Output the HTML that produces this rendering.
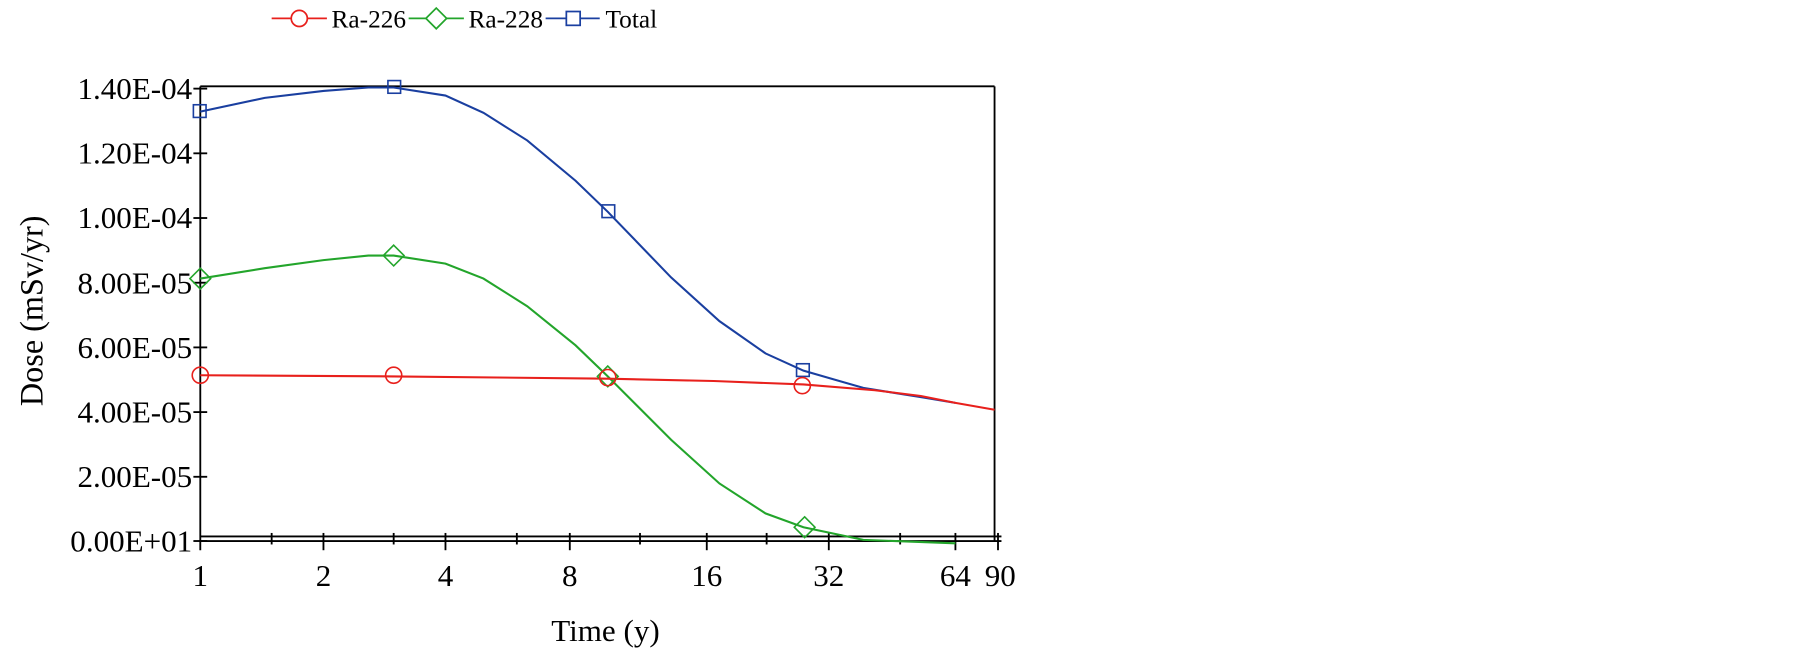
<!DOCTYPE html>
<html><head><meta charset="utf-8"><style>
html,body{margin:0;padding:0;background:#fff;}
svg{display:block;}
text{font-family:"Liberation Serif",serif;fill:#000;}
</style></head><body>
<svg width="1805" height="648" viewBox="0 0 1805 648">
<g transform="scale(1.1511)">
<!-- legend -->
<g stroke-width="1.5" fill="none">
<line x1="236" y1="16" x2="284" y2="16" stroke="#e8201c"/>
<circle cx="260" cy="16" r="7" stroke="#e8201c" fill="#fff"/>
<line x1="355" y1="16" x2="403" y2="16" stroke="#23a52b"/>
<path d="M379 7 L388 16 L379 25 L370 16 Z" stroke="#23a52b" fill="#fff"/>
<line x1="474" y1="16" x2="521" y2="16" stroke="#1a3fa0"/>
<rect x="492" y="10" width="12" height="12" stroke="#1a3fa0" fill="#fff"/>
</g>
<text x="288" y="24" font-size="22">Ra-226</text>
<text x="407" y="24" font-size="22">Ra-228</text>
<text x="526" y="24" font-size="22">Total</text>

<!-- frame -->
<g stroke="#000" stroke-width="1.6" fill="none">
<line x1="174" y1="75" x2="864" y2="75"/>
<line x1="174" y1="75" x2="174" y2="478"/>
<line x1="864" y1="75" x2="864" y2="470"/>
<line x1="174" y1="466" x2="870" y2="466"/>
<line x1="174" y1="470" x2="870" y2="470"/>
<line x1="168" y1="77" x2="180" y2="77"/>
<line x1="168" y1="133.2" x2="180" y2="133.2"/>
<line x1="168" y1="189.4" x2="180" y2="189.4"/>
<line x1="168" y1="245.6" x2="180" y2="245.6"/>
<line x1="168" y1="301.8" x2="180" y2="301.8"/>
<line x1="168" y1="358" x2="180" y2="358"/>
<line x1="168" y1="414.2" x2="180" y2="414.2"/>
<line x1="168" y1="470" x2="180" y2="470"/>
<line x1="281" y1="463" x2="281" y2="478"/>
<line x1="387" y1="463" x2="387" y2="478"/>
<line x1="495" y1="463" x2="495" y2="478"/>
<line x1="614" y1="463" x2="614" y2="478"/>
<line x1="720" y1="463" x2="720" y2="478"/>
<line x1="830" y1="463" x2="830" y2="478"/>
<line x1="867" y1="463" x2="867" y2="478"/>
<line x1="236" y1="463" x2="236" y2="473"/>
<line x1="342" y1="463" x2="342" y2="473"/>
<line x1="449" y1="463" x2="449" y2="473"/>
<line x1="556" y1="463" x2="556" y2="473"/>
<line x1="666" y1="463" x2="666" y2="473"/>
<line x1="782" y1="463" x2="782" y2="473"/>
</g>
<g font-size="27" text-anchor="end">
<text x="167" y="86">1.40E-04</text>
<text x="167" y="142">1.20E-04</text>
<text x="167" y="198">1.00E-04</text>
<text x="167" y="255">8.00E-05</text>
<text x="167" y="311">6.00E-05</text>
<text x="167" y="367">4.00E-05</text>
<text x="167" y="423">2.00E-05</text>
<text x="167" y="479">0.00E+01</text>
</g>
<g font-size="27" text-anchor="middle">
<text x="174" y="509">1</text>
<text x="281" y="509">2</text>
<text x="387" y="509">4</text>
<text x="495" y="509">8</text>
<text x="614" y="509">16</text>
<text x="720" y="509">32</text>
<text x="830" y="509">64</text>
<text x="869" y="509">90</text>
<text x="526" y="557">Time (y)</text>
<text transform="translate(37,270) rotate(-90)" font-size="28">Dose (mSv/yr)</text>
</g>

<!-- series -->
<g fill="none" stroke-width="1.8">
<polyline stroke="#1a3fa0" points="174,97 230,85 281,79 320,76 342,76 387,83 420,98 458,122 500,157 528,184 583,241 625,279 665,307 698,322 750,337 800,345 830,350"/>
<polyline stroke="#23a52b" points="174,242 230,233 281,226 320,222 342,222 387,229 420,242 458,266 500,300 528,327 583,382 625,420 665,446 698,458 750,469 830,472"/>
<polyline stroke="#e8201c" points="174,326 342,327 528,329 620,331 698,334 760,339 800,344 830,350 864,356"/>
</g>
<g fill="none" stroke-width="1.4">
<rect x="168" y="91" width="11" height="11" stroke="#1a3fa0"/>
<rect x="337" y="70" width="11" height="11" stroke="#1a3fa0"/>
<rect x="523" y="178" width="11" height="11" stroke="#1a3fa0"/>
<rect x="692" y="316" width="11" height="11" stroke="#1a3fa0"/>
<path d="M174 233 L183 242 L174 251 L165 242 Z" stroke="#23a52b"/>
<path d="M342 213 L351 222 L342 231 L333 222 Z" stroke="#23a52b"/>
<path d="M528 318 L537 327 L528 336 L519 327 Z" stroke="#23a52b"/>
<path d="M699 449 L708 458 L699 467 L690 458 Z" stroke="#23a52b"/>
<circle cx="174" cy="326" r="7" stroke="#e8201c"/>
<circle cx="342" cy="326" r="7" stroke="#e8201c"/>
<circle cx="528" cy="328" r="7" stroke="#e8201c"/>
<circle cx="697" cy="335" r="7" stroke="#e8201c"/>
</g>
</g>
</svg>
</body></html>
